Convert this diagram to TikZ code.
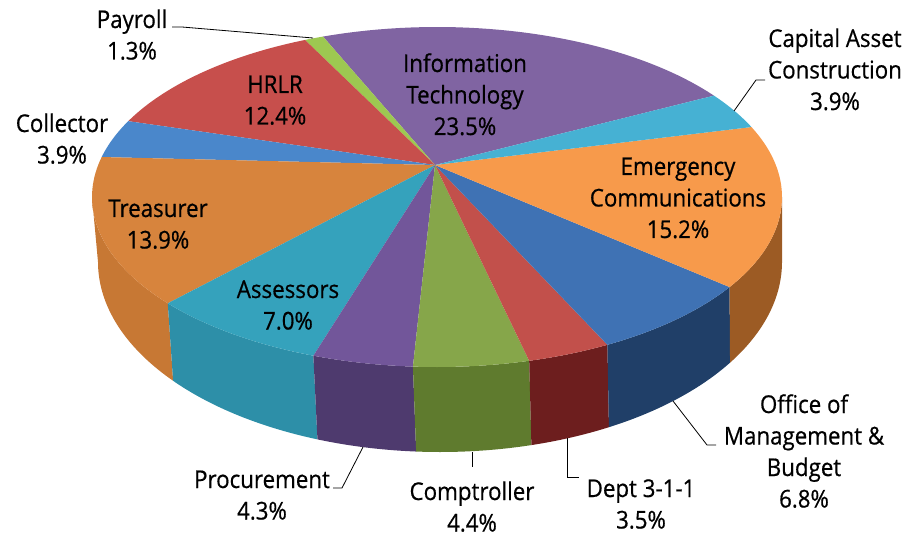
\documentclass[tikz,border=0pt]{standalone}
\usepackage{fontspec}
\setmainfont{Open Sans}[FakeStretch=0.91,FakeBold=0.6]
\definecolor{cIT}{HTML}{8064A2}
\definecolor{cCap}{HTML}{46B1D3}
\definecolor{cEmg}{HTML}{F79A4B}
\definecolor{cEmgS}{HTML}{9C5B24}
\definecolor{cOMB}{HTML}{3F72B4}
\definecolor{cOMBS}{HTML}{203F68}
\definecolor{cDept}{HTML}{C2504B}
\definecolor{cDeptS}{HTML}{6D1E1E}
\definecolor{cComp}{HTML}{86A64A}
\definecolor{cCompS}{HTML}{5F7B2E}
\definecolor{cProc}{HTML}{72569A}
\definecolor{cProcS}{HTML}{4E3A6E}
\definecolor{cAss}{HTML}{35A2BC}
\definecolor{cAssS}{HTML}{2D8FA8}
\definecolor{cTreas}{HTML}{D7843D}
\definecolor{cTreasS}{HTML}{C77834}
\definecolor{cColl}{HTML}{4A87CB}
\definecolor{cHRLR}{HTML}{C74F4C}
\definecolor{cPay}{HTML}{9DC851}
\newcommand\topslice[3]{\fill[#1] (apex) -- plot[domain=#2:#3,samples=40,variable=\t] ({437+345*cos(\t)},{197-170*sin(\t)}) -- cycle;}
\newcommand\sideslice[3]{\fill[#1] plot[domain=#2:#3,samples=40,variable=\t] ({437+345*cos(\t)},{197-170*sin(\t)}) -- plot[domain=#3:#2,samples=40,variable=\t] ({440+342*cos(\t)},{262-190*sin(\t)}) -- cycle;}
\newcommand\lbltext[1]{\vtop{\baselineskip=31.5pt\lineskiplimit=-100pt\lineskip=0pt\halign{\hfil##\hfil\cr#1\crcr}}}
\begin{document}
\begin{tikzpicture}[x=1pt,y=-1pt,
  lbl/.style={anchor=base, inner sep=0pt, font=\fontsize{24.5}{31.5}\selectfont},
  leader/.style={draw=black, line width=0.8pt}]
\useasboundingbox (0,0) rectangle (909,537);
\coordinate (apex) at (435,165);
% sides
\sideslice{cTreasS}{180}{218.7}
\sideslice{cAssS}{218.7}{249}
\sideslice{cProcS}{249}{266}
\sideslice{cCompS}{266}{285.5}
\sideslice{cDeptS}{285.5}{299.6}
\sideslice{cOMBS}{299.6}{328}
\sideslice{cEmgS}{328}{360}
% tops
\topslice{cIT}{36.6}{109.3}
\topslice{cPay}{109.3}{112.5}
\topslice{cHRLR}{112.5}{153.5}
\topslice{cColl}{153.5}{166.4}
\topslice{cTreas}{166.4}{218.7}
\topslice{cAss}{218.7}{249}
\topslice{cProc}{249}{266}
\topslice{cComp}{266}{285.5}
\topslice{cDept}{285.5}{299.6}
\topslice{cOMB}{299.6}{328}
\topslice{cEmg}{328}{384.3}
\topslice{cCap}{24.3}{36.6}
% labels
\node[lbl] (lPay) at (132,28) {\lbltext{Payroll\cr 1.3\%}};
\node[lbl] (lHRLR) at (275,93) {\lbltext{HRLR\cr 12.4\%}};
\node[lbl] (lColl) at (62,132) {\lbltext{Collector\cr 3.9\%}};
\node[lbl] (lIT) at (465,72) {\lbltext{Information\cr Technology\cr 23.5\%}};
\node[lbl] (lCap) at (835,47) {\lbltext{Capital Asset\cr Construction\cr 3.9\%}};
\node[lbl] (lEmg) at (678,175) {\lbltext{Emergency\cr Communications\cr 15.2\%}};
\node[lbl] (lOMB) at (804,413) {\lbltext{Office of\cr Management \&\cr Budget\cr 6.8\%}};
\node[lbl] (lDept) at (641,497) {\lbltext{Dept 3-1-1\cr 3.5\%}};
\node[lbl] (lComp) at (472,500) {\lbltext{Comptroller\cr 4.4\%}};
\node[lbl] (lProc) at (262,488) {\lbltext{Procurement\cr 4.3\%}};
\node[lbl] (lAss) at (288,298) {\lbltext{Assessors\cr 7.0\%}};
\node[lbl] (lTreas) at (158,217) {\lbltext{Treasurer\cr 13.9\%}};
% leader lines
\coordinate (pPay) at (313,38); \coordinate (kPay) at (182,27); \coordinate (ePay) at (172,27);
\coordinate (pCap) at (734,111); \coordinate (kCap) at (756,80); \coordinate (eCap) at (765,80);
\coordinate (pOMB) at (673,401); \coordinate (kOMB) at (707,445); \coordinate (eOMB) at (716,445);
\coordinate (pDept) at (567,438); \coordinate (kDept) at (567,477); \coordinate (eDept) at (579,477);
\coordinate (pComp) at (472,452); \coordinate (eComp) at (472,467);
\coordinate (pProc) at (363,447); \coordinate (kProc) at (342,488); \coordinate (eProc) at (333,488);
\draw[leader] (pPay) -- (kPay) -- (ePay);
\draw[leader] (pCap) -- (kCap) -- (eCap);
\draw[leader] (pOMB) -- (kOMB) -- (eOMB);
\draw[leader] (pDept) -- (kDept) -- (eDept);
\draw[leader] (pComp) -- (eComp);
\draw[leader] (pProc) -- (kProc) -- (eProc);
\end{tikzpicture}
\end{document}
